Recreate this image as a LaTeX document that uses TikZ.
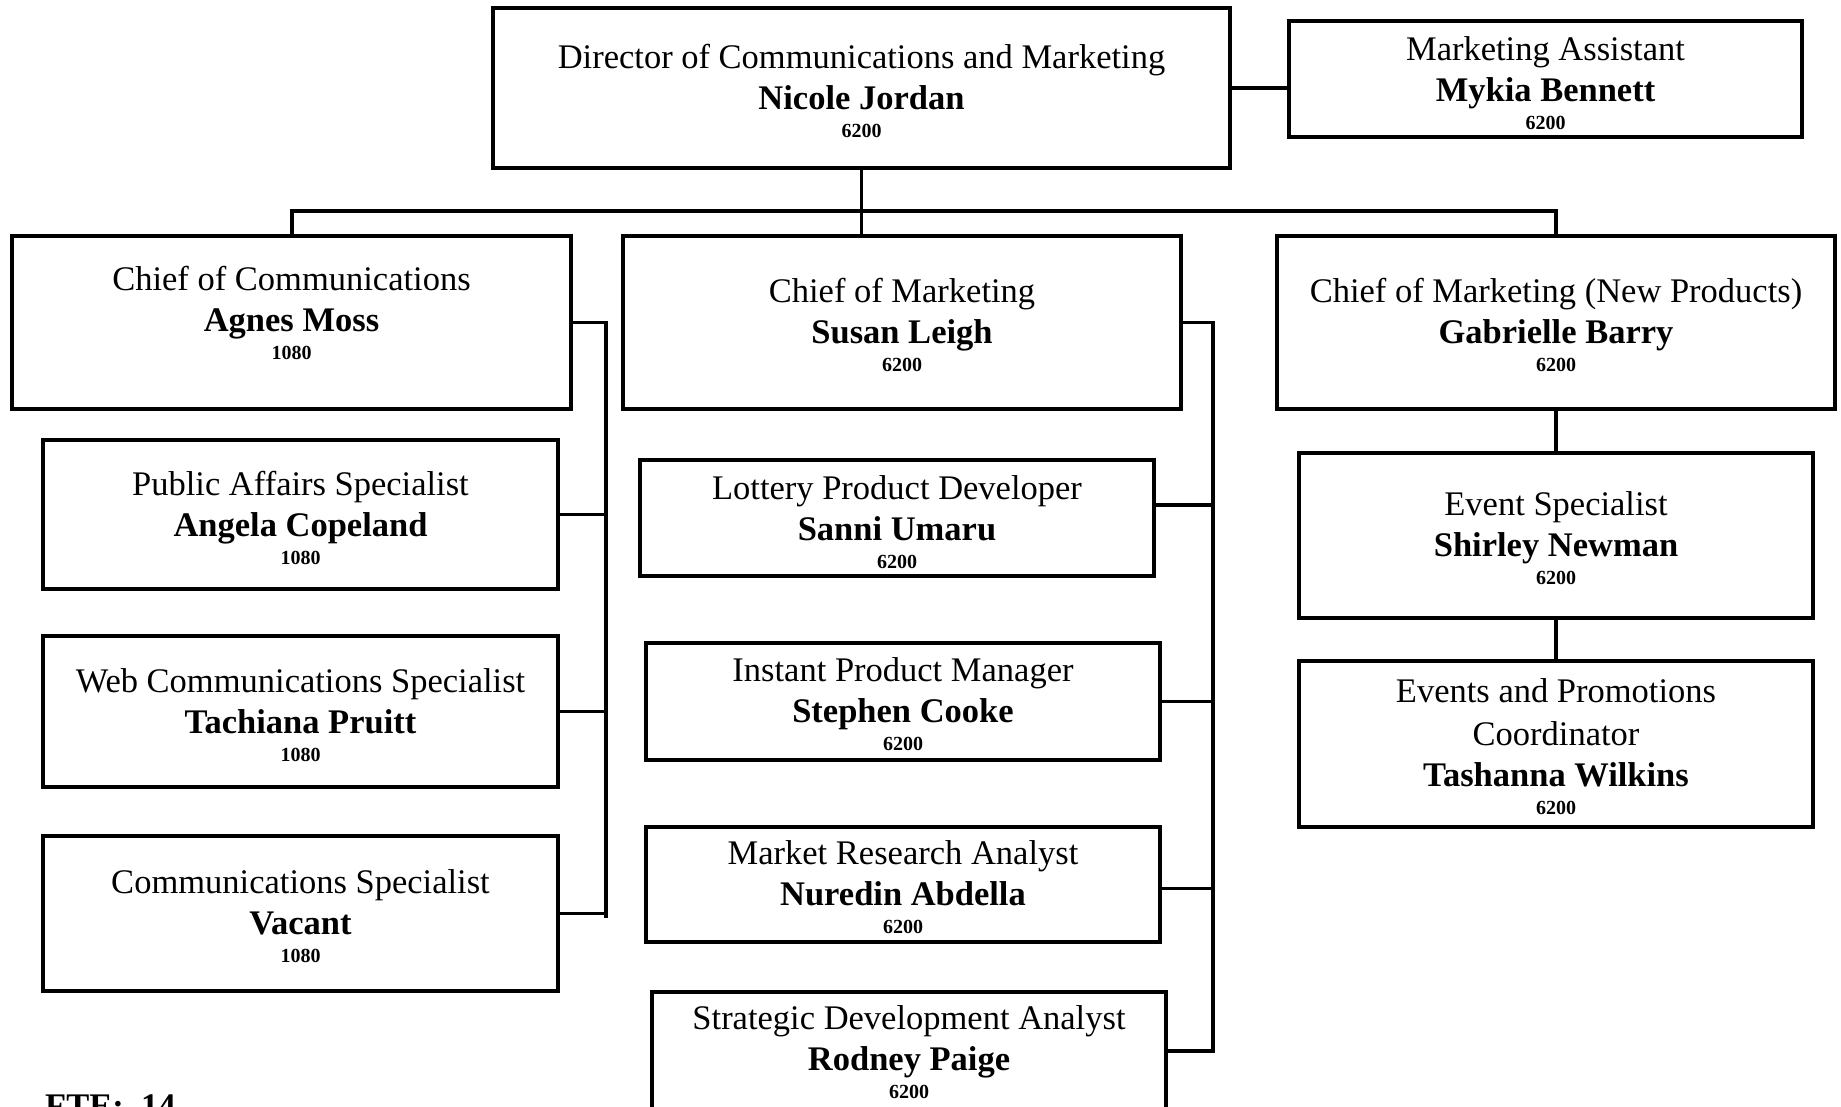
\documentclass[tikz,border=0pt]{standalone}
\usepackage{fontspec}
\setmainfont{Liberation Serif}
\usetikzlibrary{calc}
\tikzset{
  box/.style={draw=black, line width=4.5pt, rectangle, inner sep=0pt, fill=white},
  conn/.style={draw=black, line width=3.5pt},
  ttl/.style={inner sep=0pt, anchor=base, font=\fontsize{34.5}{41}\selectfont},
  nm/.style={inner sep=0pt, anchor=base, font=\fontsize{34.5}{41}\selectfont\bfseries},
  num/.style={inner sep=0pt, anchor=base, font=\fontsize{20}{24}\selectfont\bfseries},
}
% #1 name, #2 cx, #3 cy, #4 w, #5 h, #6 title baseline, #7 title, #8 person, #9 number
\newcommand\orgbox[9]{%
  \node[box, minimum width=#4pt, minimum height=#5pt] (#1) at (#2,#3) {};
  \node[ttl] (#1-a) at (#2,#6) {#7};
  \node[nm] (#1-b) at (#2,{#6+41}) {#8};
  \node[num] (#1-c) at (#2,{#6+69}) {#9};
}
\begin{document}
\begin{tikzpicture}[x=1pt,y=-1pt]
\useasboundingbox (0,0) rectangle (1841,1106);
\fill[white] (0,0) rectangle (1841,1106);

% connectors first (boxes drawn on top)
\coordinate (bus) at (862,211);
\coordinate (lbus) at (606,0);
\coordinate (mbus) at (1213,0);

% top level boxes
\orgbox{dir}{861.5}{88}{737}{160}{68}{Director of Communications and Marketing}{Nicole Jordan}{6200}
\orgbox{asst}{1545.5}{79}{513}{116}{60}{Marketing Assistant}{Mykia Bennett}{6200}

% chiefs
\orgbox{cc}{291.5}{322.5}{559}{173}{290}{Chief of Communications}{Agnes Moss}{1080}
\orgbox{cm}{902}{322.5}{558}{173}{302}{Chief of Marketing}{Susan Leigh}{6200}
\orgbox{cn}{1556}{322.5}{558}{173}{302}{Chief of Marketing (New Products)}{Gabrielle Barry}{6200}

% communications staff
\orgbox{pa}{300.5}{514.5}{515}{149}{495}{Public Affairs Specialist}{Angela Copeland}{1080}
\orgbox{wc}{300.5}{711.5}{515}{151}{692}{Web Communications Specialist}{Tachiana Pruitt}{1080}
\orgbox{cs}{300.5}{913.5}{515}{155}{893}{Communications Specialist}{Vacant}{1080}

% marketing staff
\orgbox{lpd}{897}{518}{514}{116}{499}{Lottery Product Developer}{Sanni Umaru}{6200}
\orgbox{ipm}{903}{701.5}{514}{117}{681}{Instant Product Manager}{Stephen Cooke}{6200}
\orgbox{mra}{903}{884.5}{514}{115}{864}{Market Research Analyst}{Nuredin Abdella}{6200}
\orgbox{sda}{909}{1051}{514}{118}{1029}{Strategic Development Analyst}{Rodney Paige}{6200}

% new products staff
\orgbox{es}{1556}{535.5}{514}{165}{515}{Event Specialist}{Shirley Newman}{6200}
\node[box, minimum width=514pt, minimum height=166pt] (epc) at (1556,744) {};
\node[ttl] (epc-a) at (1556,702) {Events and Promotions};
\node[ttl] (epc-a2) at (1556,745) {Coordinator};
\node[nm] (epc-b) at (1556,786) {Tashanna Wilkins};
\node[num] (epc-c) at (1556,814) {6200};

% connectors
\draw[conn, line width=3pt] (dir.south) -- (dir.south |- cm.north);
\draw[conn, line width=4pt] (cc.north) -- (cc.north |- bus) -- (cn.north |- bus) -- (cn.north);
\draw[conn] (dir.east) -- (dir.east -| asst.west);

\draw[conn] (cc.east) -- (cc.east -| lbus) -- ($(cs.east -| lbus)+(0,4)$);
\draw[conn] (pa.east) -- (pa.east -| lbus);
\draw[conn] (wc.east) -- (wc.east -| lbus);
\draw[conn] (cs.east) -- (cs.east -| lbus);

\draw[conn] (cm.east) -- (cm.east -| mbus) -- ($(sda.east -| mbus)+(0,1.5)$);
\draw[conn] ($(lpd.east)+(0,-13)$) -- ($(lpd.east -| mbus)+(0,-13)$);
\draw[conn] (ipm.east) -- (ipm.east -| mbus);
\draw[conn] ($(mra.east)+(0,4)$) -- ($(mra.east -| mbus)+(0,4)$);
\draw[conn] (sda.east) -- (sda.east -| mbus);

\draw[conn] (cn.south) -- (es.north);
\draw[conn] (es.south) -- (epc.north);

% footer
\node[inner sep=0pt, anchor=north west, font=\fontsize{34.5}{41}\selectfont\bfseries] (fte) at (45,1095) {FTE:\ \ 14};
\end{tikzpicture}
\end{document}
